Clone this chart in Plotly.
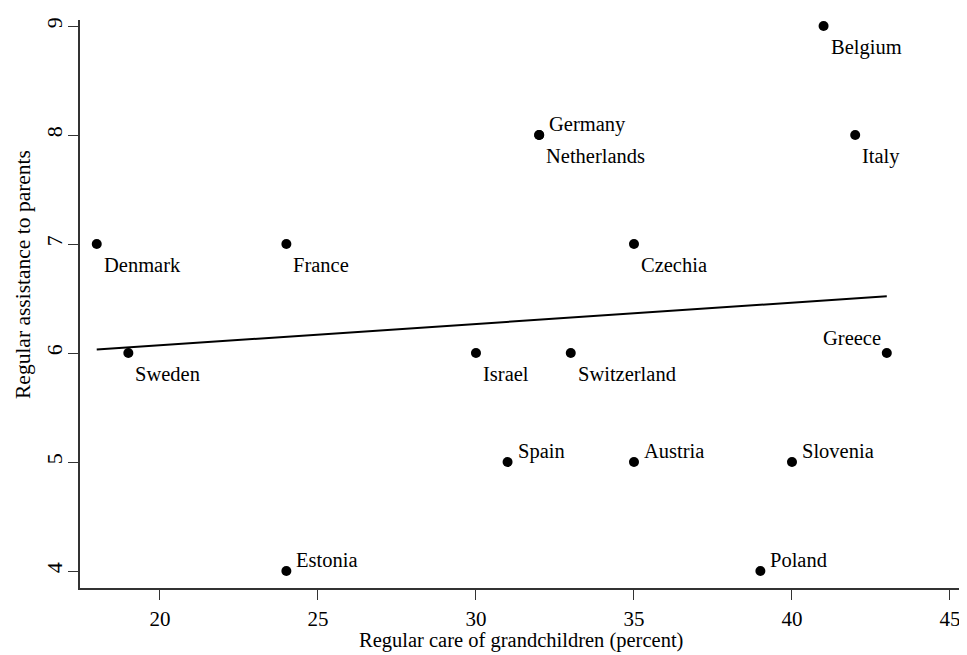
import numpy as np
import plotly.graph_objects as go

countries = ["Denmark", "Sweden", "France", "Estonia", "Israel", "Spain", "Germany",
             "Netherlands", "Switzerland", "Czechia", "Austria", "Poland", "Slovenia",
             "Belgium", "Italy", "Greece"]
care_grandchildren = [18, 19, 24, 24, 30, 31, 32, 32, 33, 35, 35, 39, 40, 41, 42, 43]
assist_parents = [7, 6, 7, 4, 6, 5, 8, 8, 6, 7, 5, 4, 5, 9, 8, 6]
# label clock position (Stata-style)
label_pos = ["4", "4", "4", "2", "4", "2", "2", "4", "4", "4", "2", "2", "2", "4", "4", "10"]

x_ticks = [20, 25, 30, 35, 40, 45]
y_ticks = [4, 5, 6, 7, 8, 9]

FONT = "Liberation Serif"

fig = go.Figure()

# linear fit
slope, intercept = np.polyfit(care_grandchildren, assist_parents, 1)
fx = [min(care_grandchildren), max(care_grandchildren)]
fy = [intercept + slope * v for v in fx]
fig.add_trace(go.Scatter(x=fx, y=fy, mode="lines",
                         line=dict(color="black", width=2), hoverinfo="skip",
                         showlegend=False))

fig.add_trace(go.Scatter(x=care_grandchildren, y=assist_parents, mode="markers",
                         marker=dict(color="black", size=10, line=dict(width=0)),
                         text=countries, showlegend=False))

shifts = {"4": ("left", 5, -21), "2": ("left", 8, 11), "10": ("right", -4, 15)}
for c, xv, yv, p in zip(countries, care_grandchildren, assist_parents, label_pos):
    xa, xs, ys = shifts[p]
    fig.add_annotation(x=xv, y=yv, xref="x", yref="y", text=c, showarrow=False,
                       xanchor=xa, yanchor="middle", xshift=xs, yshift=ys,
                       font=dict(family=FONT, size=20.5, color="black"))

# axis titles
fig.add_annotation(x=0.5, y=0, xref="paper", yref="paper",
                   text="Regular care of grandchildren (percent)", showarrow=False,
                   xanchor="center", yanchor="middle", yshift=-52,
                   font=dict(family=FONT, size=20.5, color="black"))
fig.add_annotation(x=0, y=0.5, xref="paper", yref="paper",
                   text="Regular assistance to parents", showarrow=False, textangle=-90,
                   xanchor="center", yanchor="middle", xshift=-57, yshift=29,
                   font=dict(family=FONT, size=21.5, color="black"))

# page body has an 8px default margin: shrink figure and margins accordingly
fig.update_layout(
    width=959, height=647, autosize=False,
    margin=dict(l=72, r=5, t=12, b=67),
    plot_bgcolor="white", paper_bgcolor="white",
    font=dict(family=FONT, color="black"),
)
fig.update_xaxes(range=[17.47, 45.38], tickvals=x_ticks, ticktext=[str(v) for v in x_ticks],
                 automargin=False,
                 showgrid=False, zeroline=False, showline=True, linecolor="#333333",
                 linewidth=1.5, ticks="outside", ticklen=10, tickwidth=1.2, tickcolor="#333333",
                 ticklabelstandoff=1,
                 tickfont=dict(family=FONT, size=21, color="black"))
fig.update_yaxes(range=[3.844, 9.055], tickvals=y_ticks, ticktext=[str(v) for v in y_ticks],
                 automargin=False,
                 showgrid=False, zeroline=False, showline=True, linecolor="#333333",
                 linewidth=1.5, ticks="outside", ticklen=10, tickwidth=1.2, tickcolor="#333333",
                 tickangle=-90, ticklabelstandoff=-3,
                 tickfont=dict(family=FONT, size=22, color="black"))

fig.write_html("out.html")
